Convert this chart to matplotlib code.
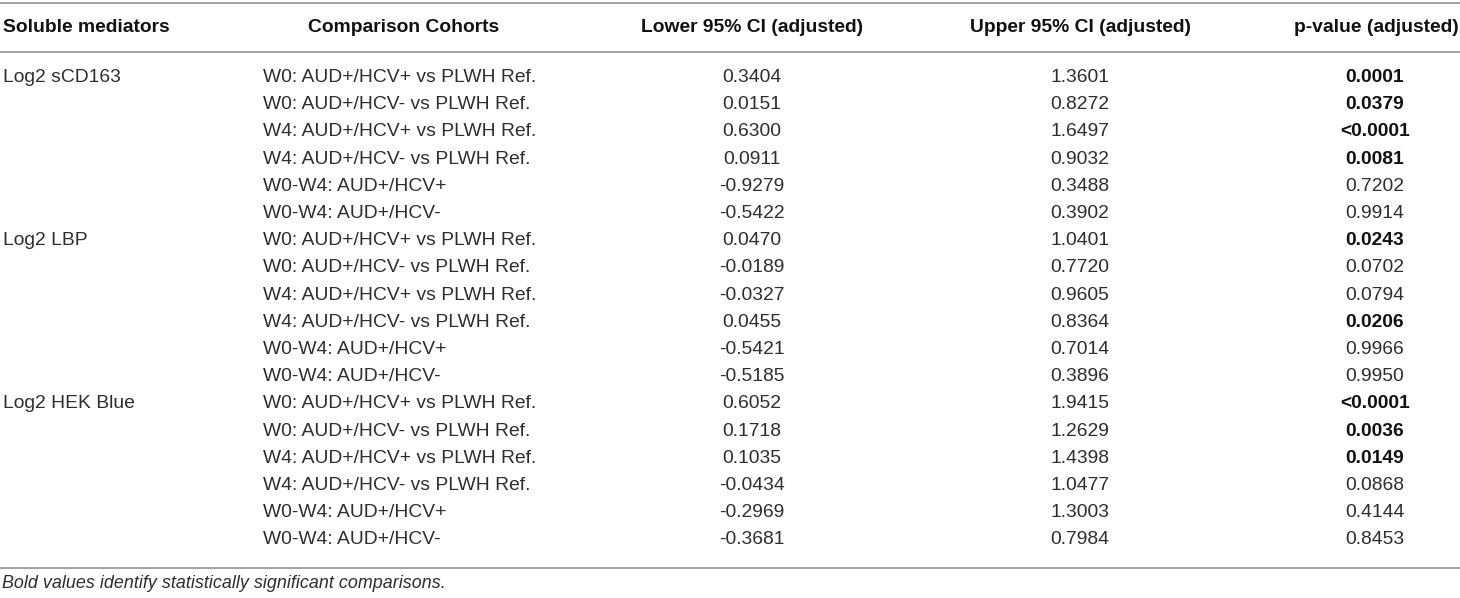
import matplotlib.pyplot as plt
import matplotlib as mpl

mpl.rcParams["font.family"] = ["Liberation Sans", "DejaVu Sans"]

HEADERS = ["Soluble mediators", "Comparison Cohorts", "Lower 95% CI (adjusted)",
           "Upper 95% CI (adjusted)", "p-value (adjusted)"]
MEDIATORS = ["Log2 sCD163", "Log2 LBP", "Log2 HEK Blue"]
COMPARISONS = [
    "W0: AUD+/HCV+ vs PLWH Ref.",
    "W0: AUD+/HCV- vs PLWH Ref.",
    "W4: AUD+/HCV+ vs PLWH Ref.",
    "W4: AUD+/HCV- vs PLWH Ref.",
    "W0-W4: AUD+/HCV+",
    "W0-W4: AUD+/HCV-",
]
LOWER = ["0.3404", "0.0151", "0.6300", "0.0911", "-0.9279", "-0.5422",
         "0.0470", "-0.0189", "-0.0327", "0.0455", "-0.5421", "-0.5185",
         "0.6052", "0.1718", "0.1035", "-0.0434", "-0.2969", "-0.3681"]
UPPER = ["1.3601", "0.8272", "1.6497", "0.9032", "0.3488", "0.3902",
         "1.0401", "0.7720", "0.9605", "0.8364", "0.7014", "0.3896",
         "1.9415", "1.2629", "1.4398", "1.0477", "1.3003", "0.7984"]
PVAL = ["0.0001", "0.0379", "<0.0001", "0.0081", "0.7202", "0.9914",
        "0.0243", "0.0702", "0.0794", "0.0206", "0.9966", "0.9950",
        "<0.0001", "0.0036", "0.0149", "0.0868", "0.4144", "0.8453"]
FOOTNOTE = "Bold values identify statistically significant comparisons."

W, H = 1460, 598
fig = plt.figure(figsize=(W / 100, H / 100), dpi=100)
ax = fig.add_axes([0, 0, 1, 1])
ax.set_xlim(0, W)
ax.set_ylim(H, 0)
ax.axis("off")

FS = 13.9
LINE = "#9a9a9a"
TXT = "#2e2e2e"

# column anchors (x, ha)
cols = [(3, "left"), (404, "center"), (752, "center"), (1080, "center"), (1376, "center")]

# rules
for y in (3, 52, 567.5):
    ax.plot([0, W], [y, y], color=LINE, lw=1.3, solid_capstyle="butt")

# header
for (x, ha), h in zip(cols, HEADERS):
    ax.text(x, 28, h, ha=ha, va="center", fontsize=FS, fontweight="bold", color="#111")

y0, dy = 77.5, 27.2
n_cmp = len(COMPARISONS)
for i in range(len(LOWER)):
    y = y0 + i * dy
    if i % n_cmp == 0:
        ax.text(3, y, MEDIATORS[i // n_cmp], ha="left", va="center", fontsize=FS, color=TXT)
    ax.text(263, y, COMPARISONS[i % n_cmp], ha="left", va="center", fontsize=FS, color=TXT)
    ax.text(752, y, LOWER[i], ha="center", va="center", fontsize=FS, color=TXT)
    ax.text(1080, y, UPPER[i], ha="center", va="center", fontsize=FS, color=TXT)
    sig = float(PVAL[i].lstrip("<")) < 0.05
    ax.text(1375, y, PVAL[i], ha="center", va="center", fontsize=FS,
            fontweight="bold" if sig else "normal", color="#111" if sig else TXT)

ax.text(2, 583, FOOTNOTE, ha="left", va="center", fontsize=12.85, style="italic", color=TXT)

fig.savefig("out.png", dpi=100, facecolor="white")
